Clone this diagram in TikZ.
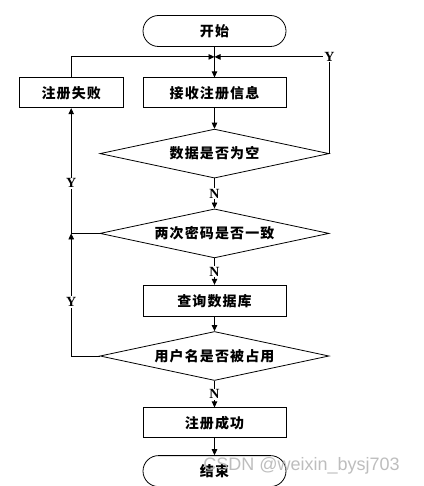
\documentclass[tikz,border=0pt]{standalone}
\usepackage{fontspec}
\setmainfont{Liberation Serif}
\newfontfamily\cjk{Noto Sans CJK SC}[LetterSpace=8]
\newfontfamily\wmfont{Liberation Sans}
\usetikzlibrary{positioning,arrows.meta,shapes.geometric,shapes.misc}

\begin{document}
\begin{tikzpicture}[x=1pt,y=-1pt,
    every node/.style={font=\cjk\bfseries\fontsize{14}{16}\selectfont,inner sep=0pt},
    node distance=20pt,
    proc/.style={draw,minimum width=143pt,minimum height=30pt},
    term/.style={draw,rounded rectangle,minimum width=143pt,minimum height=31pt},
    decide/.style={draw,diamond,aspect=4.6,minimum width=229pt,minimum height=49pt},
    yn/.style={fill=white,inner sep=1pt,font=\bfseries\fontsize{14}{16}\selectfont},
    flow/.style={-{Triangle[length=6pt,width=5.5pt]}},
    line width=0.8pt]
  \useasboundingbox (0,0) rectangle (423,486);
  \node[term] (start) at (214.5,31) {开始};
  \coordinate[below=10pt of start] (j);
  \node[proc,below=30.5pt of start] (recv) {接收注册信息};
  \node[proc,minimum width=104pt,left=19pt of recv] (fail) {注册失败};
  \node[decide,below=20.5pt of recv] (d1) {数据是否为空};
  \node[decide,below=30pt of d1] (d2) {两次密码是否一致};
  \node[proc,minimum height=31pt,below=26.5pt of d2] (qry) {查询数据库};
  \node[decide,below=14.5pt of qry] (d3) {用户名是否被占用};
  \node[proc,below=26.5pt of d3] (ok) {注册成功};
  \node[term,below=17pt of ok] (stop) {结束};
  % watermark
  \node[anchor=west,text=gray!60,opacity=0.85,font=\wmfont\fontsize{18}{20}\selectfont] (wm) at (203,466) {CSDN @weixin\_bysj703};

  \draw (start) -- (j);
  \draw[flow] (j) -- (recv);
  \draw[flow] (fail) |- (j);
  \draw[flow] (d1.east) |- (j) node[yn,pos=0.5] {Y};
  \draw[flow] (recv) -- (d1);
  \draw[flow] (d1) -- node[yn] {N} (d2);
  \draw[flow] (d2) -- node[yn] {N} (qry);
  \draw[flow] (qry) -- (d3);
  \draw[flow] (d3) -- node[yn] {N} (ok);
  \draw[flow] (ok) -- (stop);
  \coordinate (c2) at (fail.south |- d2.west);
  \draw[flow] (d2.west) -| (fail) node[yn,pos=0.7] {Y};
  \draw[flow] (d3.west) -| (c2) node[yn,pos=0.72] {Y};
\end{tikzpicture}
\end{document}
